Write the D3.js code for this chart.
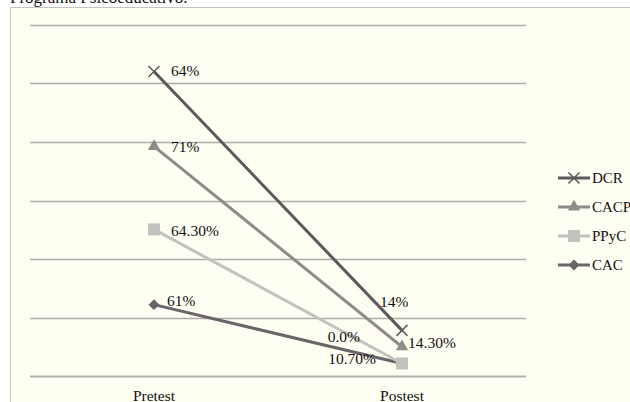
<!DOCTYPE html>
<html><head><meta charset="utf-8">
<script src="https://cdn.jsdelivr.net/npm/d3@7"></script>
<style>html,body{margin:0;padding:0;background:#fff;}svg{display:block;}</style>
</head><body>
<svg id="c" width="630" height="402"></svg>
<script>
const categories = ["Pretest", "Postest"];
const seriesNames = ["DCR", "CACP", "PPyC", "CAC"];
// stacked line values (fractions), stacking order bottom-up: CAC, PPyC, CACP, DCR
const valCAC  = [0.61, 0.107];
const valPPyC = [0.643, 0.0];
const valCACP = [0.71, 0.143];
const valDCR  = [0.64, 0.14];
const labelCAC  = ["61%", "10.70%"];
const labelPPyC = ["64.30%", "0.0%"];
const labelCACP = ["71%", "14.30%"];
const labelDCR  = ["64%", "14%"];
const yTicks = [0, 0.5, 1, 1.5, 2, 2.5, 3];
const title = "Programa Psicoeducativo.";

const svg = d3.select("#c");
const font = "'Liberation Serif', 'Times New Roman', serif";

svg.append("rect").attr("x",10.5).attr("y",7.5).attr("width",640).attr("height",420)
  .attr("fill","#fefef3").attr("stroke","#c4c4c0").attr("stroke-width",1);
svg.append("text").attr("x",10).attr("y",3).attr("font-family",font).attr("font-size",17)
  .attr("fill","#111").text(title);

const x = d3.scalePoint().domain(categories).range([30,526]).padding(0.5);
const y = d3.scaleLinear().domain([0,3]).range([376,25]);

svg.append("g").selectAll("line").data(yTicks).join("line")
  .attr("x1",30).attr("x2",526).attr("y1",d=>Math.round(y(d))+0.5).attr("y2",d=>Math.round(y(d))+0.5)
  .attr("stroke",d=>d===0?"#b3b1ac":"#aeaca6").attr("stroke-width",d=>d===0?2:1.3);

svg.append("g").selectAll("text").data(categories).join("text")
  .attr("x",d=>x(d)).attr("y",401).attr("text-anchor","middle")
  .attr("font-family",font).attr("font-size",15.5).attr("fill","#111").text(d=>d);

const raw = {CAC:valCAC, PPyC:valPPyC, CACP:valCACP, DCR:valDCR};
const labels = {CAC:labelCAC, PPyC:labelPPyC, CACP:labelCACP, DCR:labelDCR};
const order = ["CAC","PPyC","CACP","DCR"];
const table = categories.map((c,i)=>{const o={cat:c}; order.forEach(k=>o[k]=raw[k][i]); return o;});
const stacked = d3.stack().keys(order)(table);
const styles = {
  DCR:{color:"#5d585c", marker:"x"},
  CACP:{color:"#8f8b8b", marker:"tri"},
  PPyC:{color:"#c4c2bf", marker:"sq"},
  CAC:{color:"#6b6569", marker:"dia"}
};
const labelPos = {
  DCR:[[17,5,"start"],[-22,-23,"start"]],
  CACP:[[17,6,"start"],[6,1,"start"]],
  PPyC:[[17,7,"start"],[-42,-21,"end"]],
  CAC:[[13,1,"start"],[-26,1,"end"]]
};

function marker(g, type, color, cx, cy){
  if(type==="x"){
    const s=5.5;
    g.append("path").attr("d",`M${cx-s},${cy-s}L${cx+s},${cy+s}M${cx-s},${cy+s}L${cx+s},${cy-s}`)
      .attr("stroke",color).attr("stroke-width",1.5).attr("fill","none");
  } else if(type==="tri"){
    g.append("path").attr("d",d3.symbol(d3.symbolTriangle2,110)()).attr("transform",`translate(${cx},${cy})`).attr("fill",color);
  } else if(type==="sq"){
    g.append("rect").attr("x",cx-6).attr("y",cy-6).attr("width",12).attr("height",12).attr("fill",color);
  } else {
    g.append("path").attr("d",d3.symbol(d3.symbolDiamond2,75)()).attr("transform",`translate(${cx},${cy})`).attr("fill",color);
  }
}

const line = d3.line().x(d=>x(d.data.cat)).y(d=>y(d[1]));
order.forEach(k=>{
  const s = stacked.find(e=>e.key===k);
  const g = svg.append("g");
  g.append("path").datum(s).attr("d",line).attr("fill","none")
    .attr("stroke",styles[k].color).attr("stroke-width",3);
  s.forEach(d=>marker(g, styles[k].marker, styles[k].color, x(d.data.cat), y(d[1])));
});
order.forEach(k=>{
  const s = stacked.find(e=>e.key===k);
  s.forEach((d,i)=>{
    const p = labelPos[k][i];
    svg.append("text").attr("x",x(d.data.cat)+p[0]).attr("y",y(d[1])+p[1])
      .attr("text-anchor",p[2]).attr("font-family",font).attr("font-size",15.5).attr("fill","#111")
      .text(labels[k][i]);
  });
});

const leg = svg.append("g");
seriesNames.forEach((k,i)=>{
  const ly = 178 + i*29;
  leg.append("line").attr("x1",558).attr("x2",590).attr("y1",ly).attr("y2",ly)
    .attr("stroke",styles[k].color).attr("stroke-width",3);
  marker(leg, styles[k].marker, styles[k].color, 574, ly);
  leg.append("text").attr("x",592).attr("y",ly+5).attr("font-family",font).attr("font-size",15)
    .attr("fill","#111").text(k);
});
</script>
</body></html>
